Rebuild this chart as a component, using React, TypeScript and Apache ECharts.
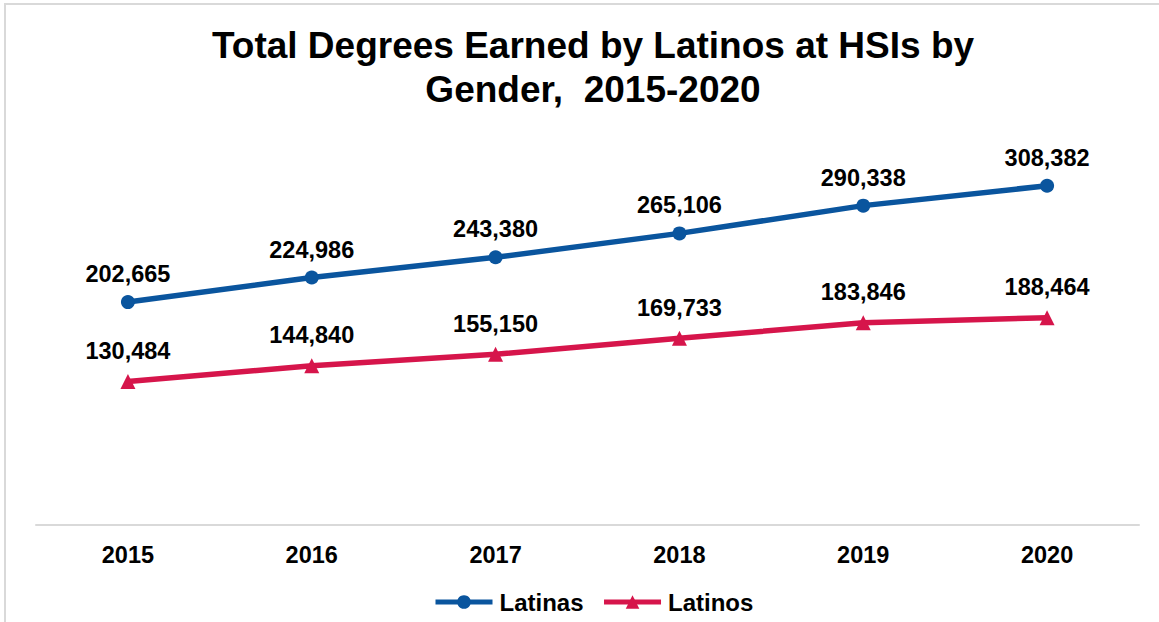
import React, { useEffect, useRef } from "react";
import * as echarts from "echarts";

const years = ["2015", "2016", "2017", "2018", "2019", "2020"];
const latinas = [202665, 224986, 243380, 265106, 290338, 308382];
const latinos = [130484, 144840, 155150, 169733, 183846, 188464];
const titleText = "Total Degrees Earned by Latinos at HSIs by\nGender,  2015-2020";

const BLUE = "#0A559E";
const RED = "#D6154B";
const FONT = "'Liberation Sans', Arial, sans-serif";

export default function App() {
  const ref = useRef<HTMLDivElement>(null);
  useEffect(() => {
    if (!ref.current) return;
    const chart = echarts.init(ref.current, null, { renderer: "svg" });
    const labelFmt = (p: any) => Number(p.value).toLocaleString("en-US");
    const labelStyle = {
      show: true,
      position: "top",
      formatter: labelFmt,
      fontFamily: FONT,
      fontSize: 23.5,
      fontWeight: "bold",
      color: "#000",
    };
    chart.setOption({
      animation: false,
      backgroundColor: "#ffffff",
      textStyle: { fontFamily: FONT },
      title: {
        text: titleText,
        left: 588,
        textAlign: "center",
        top: 18,
        textStyle: {
          fontFamily: FONT,
          fontSize: 37,
          fontWeight: "bold",
          color: "#000",
          lineHeight: 44,
        },
      },
      graphic: [
        {
          type: "rect",
          shape: { x: 5, y: 4, width: 1300, height: 800 },
          style: { fill: "none", stroke: "#d9d9d9", lineWidth: 2 },
          silent: true,
          z: -1,
        },
      ],
      legend: {
        left: 433,
        top: 590,
        padding: 0,
        itemWidth: 57,
        itemHeight: 17,
        itemGap: 18,
        textStyle: { fontFamily: FONT, fontSize: 24, fontWeight: "bold", color: "#000", padding: [0, 0, 0, 2] },
        data: [
          { name: "Latinas", lineStyle: { width: 5, color: BLUE }, itemStyle: { color: BLUE } },
          { name: "Latinos", lineStyle: { width: 5, color: RED }, itemStyle: { color: RED } },
        ],
      },
      grid: { left: 36, right: 20, top: 140, bottom: 97 },
      xAxis: {
        type: "category",
        data: years,
        boundaryGap: true,
        axisLine: { lineStyle: { color: "#d9d9d9", width: 2 } },
        axisTick: { show: false },
        axisLabel: { margin: 18, fontFamily: FONT, fontSize: 23.5, fontWeight: "bold", color: "#000" },
      },
      yAxis: {
        type: "value",
        min: 0,
        max: 350000,
        show: false,
        splitLine: { show: false },
      },
      series: [
        {
          name: "Latinas",
          type: "line",
          data: latinas,
          symbol: "circle",
          symbolSize: 14,
          lineStyle: { color: BLUE, width: 5.5 },
          itemStyle: { color: BLUE },
          label: { ...labelStyle, distance: 9 },
        },
        {
          name: "Latinos",
          type: "line",
          data: latinos,
          symbol: "triangle",
          symbolSize: 15,
          lineStyle: { color: RED, width: 5.5 },
          itemStyle: { color: RED },
          label: { ...labelStyle, distance: 11 },
        },
      ],
    });
    return () => chart.dispose();
  }, []);
  return (
    <div
      ref={ref}
      style={{ position: "fixed", left: 0, top: 0, width: 1159, height: 622 }}
    />
  );
}
